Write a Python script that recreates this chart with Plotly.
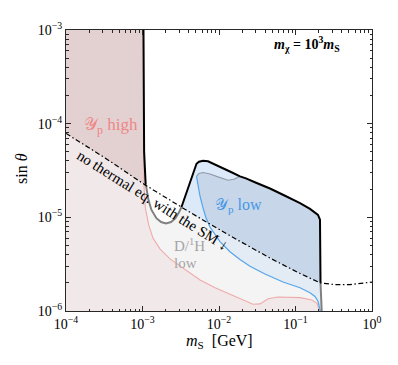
import plotly.graph_objects as go

# values: m_S in GeV, sin(theta)
x_range = [1e-4, 1.0]
y_range = [1e-6, 1e-3]

# "no thermal eq. with the SM" boundary (dash-dot)
dd_x = [1e-4, 3.24e-4, 1.08e-3, 4.18e-3, 1.39e-2, 4.65e-2, 0.115, 0.209, 0.328, 0.515, 1.0]
dd_y = [7.87e-5, 4.31e-5, 2.22e-5, 1.13e-5, 6.37e-6, 3.67e-6, 2.51e-6, 2.0e-6, 1.91e-6, 1.91e-6, 2.04e-6]

# Y_p high boundary (light red)
pink_x = [1.02e-3, 1.03e-3, 1.05e-3, 1.09e-3, 1.2e-3, 1.37e-3, 1.69e-3, 2.29e-3, 3.38e-3, 5.65e-3,
          8.9e-3, 1.39e-2, 2.19e-2, 2.78e-2, 3.44e-2, 4.38e-2, 5.9e-2, 0.115, 0.164, 0.191, 0.206]
pink_y = [1e-3, 4.7e-5, 2.03e-5, 1.26e-5, 8.4e-6, 6.0e-6, 4.6e-6, 3.6e-6, 2.86e-6, 2.14e-6,
          1.77e-6, 1.5e-6, 1.27e-6, 1.18e-6, 1.19e-6, 1.35e-6, 1.41e-6, 1.39e-6, 1.31e-6, 1.21e-6, 1e-6]

# combined bound, left vertical part (black)
left_x = [1.03e-3, 1.05e-3, 1.1e-3]
left_y = [1e-3, 5e-5, 2.22e-5]

# D/1H low, U-shaped part below the dash-dot line (grey)
u_x = [1.11e-3, 1.2e-3, 1.31e-3, 1.52e-3, 1.75e-3, 2.03e-3, 2.36e-3, 2.7e-3, 3.0e-3, 3.235e-3]
u_y = [2.19e-5, 1.52e-5, 1.2e-5, 9.8e-6, 8.9e-6, 8.58e-6, 8.9e-6, 9.8e-6, 1.13e-5, 1.29e-5]

# combined bound, bump (black)
bump_x = [3.235e-3, 3.59e-3, 4.05e-3, 4.5e-3, 4.78e-3, 5.08e-3, 5.48e-3, 6.18e-3, 7.18e-3, 1.03e-2,
          1.48e-2, 1.88e-2, 2.25e-2, 3.05e-2, 4.64e-2, 7.29e-2, 0.1146, 0.1547, 0.1798, 0.1968,
          0.209, 0.211, 0.2123]
bump_y = [1.29e-5, 1.64e-5, 2.18e-5, 2.84e-5, 3.35e-5, 3.73e-5, 3.92e-5, 4.01e-5, 3.96e-5, 3.48e-5,
          3.01e-5, 2.74e-5, 2.61e-5, 2.34e-5, 2.03e-5, 1.7e-5, 1.42e-5, 1.23e-5, 1.13e-5, 1.06e-5,
          9.44e-6, 4.29e-6, 2.0e-6]

# right edge below the dash-dot line (grey)
edge_x = [0.2123, 0.216, 0.22]
edge_y = [2.0e-6, 1.4e-6, 1e-6]

# D/1H low, upper line inside the bump (grey)
top_x = [5.08e-3, 5.48e-3, 6.18e-3, 7.62e-3, 9.7e-3, 1.31e-2, 1.57e-2, 1.88e-2]
top_y = [2.74e-5, 2.94e-5, 3.01e-5, 2.9e-5, 2.7e-5, 2.49e-5, 2.55e-5, 2.74e-5]

# Y_p low boundary (blue)
blue_x = [5.08e-3, 5.31e-3, 5.65e-3, 6.18e-3, 6.76e-3, 7.62e-3, 8.87e-3, 1.03e-2, 1.39e-2, 1.88e-2,
          2.54e-2, 3.99e-2, 6.87e-2, 0.1146, 0.1547, 0.1798, 0.1968, 0.206, 0.211]
blue_y = [2.74e-5, 2.18e-5, 1.68e-5, 1.26e-5, 9.9e-6, 7.89e-6, 6.59e-6, 5.51e-6, 4.29e-6, 3.54e-6,
          3.0e-6, 2.48e-6, 2.04e-6, 1.77e-6, 1.57e-6, 1.43e-6, 1.27e-6, 1.125e-6, 1e-6]

FONT = "Liberation Serif"
OFF = 8  # page margin around the plot div
W, H = 398 - OFF, 365 - OFF
L, R, T, B = 66 - OFF, 26, 22 - OFF, 54


def px(xp, yp):
    # screen pixel position -> paper coords
    return (xp - OFF - L) / (W - L - R), 1 - (yp - OFF - T) / (H - T - B)


fig = go.Figure()


def poly(xs, ys, color):
    fig.add_trace(go.Scatter(x=xs, y=ys, mode="lines", fill="toself", fillcolor=color,
                             line=dict(width=0), hoverinfo="skip", showlegend=False))


def line(xs, ys, color, width, dash="solid"):
    fig.add_trace(go.Scatter(x=xs, y=ys, mode="lines", line=dict(color=color, width=width, dash=dash),
                             hoverinfo="skip", showlegend=False))


# grey D/H region
poly(u_x + bump_x + edge_x[1:] + [x_range[0], x_range[0]],
     u_y + bump_y + edge_y[1:] + [y_range[0], u_y[0]], "rgb(232,232,232)")

# bump, light blue
lo, hi = bump_x[0], bump_x[-1]
dd_in = [(a, b) for a, b in zip(dd_x, dd_y) if lo < a < hi][::-1]
poly(bump_x + [a for a, b in dd_in], bump_y + [b for a, b in dd_in], "rgb(219,233,248)")

# Y_p low, darker blue
j = bump_x.index(top_x[-1])
poly(blue_x + edge_x[::-1] + bump_x[j:][::-1] + top_x[::-1],
     blue_y + edge_y[::-1] + bump_y[j:][::-1] + top_y[::-1], "rgb(199,214,232)")

# Y_p high, pink
poly(pink_x + [x_range[0], x_range[0]], pink_y + [y_range[0], y_range[1]], "rgb(227,209,210)")

# lighter shading below the dash-dot line
poly(dd_x + [x_range[1], x_range[0]], dd_y + [y_range[0], y_range[0]], "rgba(255,255,255,0.5)")

line(pink_x, pink_y, "rgb(240,170,170)", 1.1)
line(blue_x, blue_y, "rgb(85,165,235)", 1.2)
line(top_x, top_y, "rgb(145,155,170)", 1.2)
line(u_x, u_y, "rgb(128,128,128)", 2)
line(edge_x, edge_y, "rgb(128,128,128)", 2)
line(left_x, left_y, "black", 2)
line(bump_x, bump_y, "black", 2)
line(dd_x, dd_y, "black", 1.2, "5px,2.5px,1.5px,2.5px")

major = [1e-4, 1e-3, 1e-2, 1e-1, 1.0]
minor_x = [m * 10 ** k for k in range(-4, 0) for m in range(2, 10)]
minor_y = [m * 10 ** k for k in range(-6, -3) for m in range(2, 10)]

axis = dict(type="log", showgrid=False, zeroline=False, showline=True, linecolor="rgb(40,40,40)",
            linewidth=1, mirror="allticks", ticks="inside", ticklen=5, tickcolor="rgb(40,40,40)",
            tickfont=dict(family=FONT, size=14, color="black"))

fig.update_xaxes(**axis, range=[-4, 0], tickvals=major,
                 ticktext=["10<sup>−4</sup>", "10<sup>−3</sup>", "10<sup>−2</sup>", "10<sup>−1</sup>", "10<sup>0</sup>"],
                 minor=dict(tickvals=minor_x, ticks="inside", ticklen=2.5, tickcolor="rgb(40,40,40)"))
fig.update_yaxes(**axis, range=[-6, -3], tickvals=[1e-6, 1e-5, 1e-4, 1e-3],
                 ticktext=["10<sup>−6</sup>", "10<sup>−5</sup>", "10<sup>−4</sup>", "10<sup>−3</sup>"],
                 minor=dict(tickvals=minor_y, ticks="inside", ticklen=2.5, tickcolor="rgb(40,40,40)"))

ann = []


def text(s, xp, yp, color, size, angle=0, xanchor="center", align="center"):
    ax, ay = px(xp, yp)
    ann.append(dict(text=s, x=ax, y=ay, xref="paper", yref="paper", showarrow=False,
                    font=dict(family=FONT, size=size, color=color), textangle=angle,
                    xanchor=xanchor, yanchor="middle", align=align))


text("𝒴<sub>p</sub> high", 111, 121, "rgb(238,135,135)", 17)
text("𝒴<sub>p</sub> low", 238, 203, "rgb(70,150,230)", 16)
text("D/<sup>1</sup>H", 172, 243, "rgb(165,165,165)", 15, xanchor="left")
text("low", 172, 262, "rgb(165,165,165)", 15, xanchor="left")
text("no thermal eq. with the SM ↓", 152, 197, "black", 15, angle=32)
text("<b><i>m</i><sub>χ</sub> = 10<sup>3</sup><i>m</i><sub>S</sub></b>", 307, 36, "black", 14)
text("sin <i>θ</i>", 21, 165, "black", 16, angle=-90)
text("<i>m</i><sub>S</sub>  [GeV]", 219, 342, "black", 16)

fig.update_layout(width=W, height=H, margin=dict(l=L, r=R, t=T, b=B),
                  paper_bgcolor="white", plot_bgcolor="white", annotations=ann,
                  font=dict(family=FONT))

fig.write_html("out.html")
